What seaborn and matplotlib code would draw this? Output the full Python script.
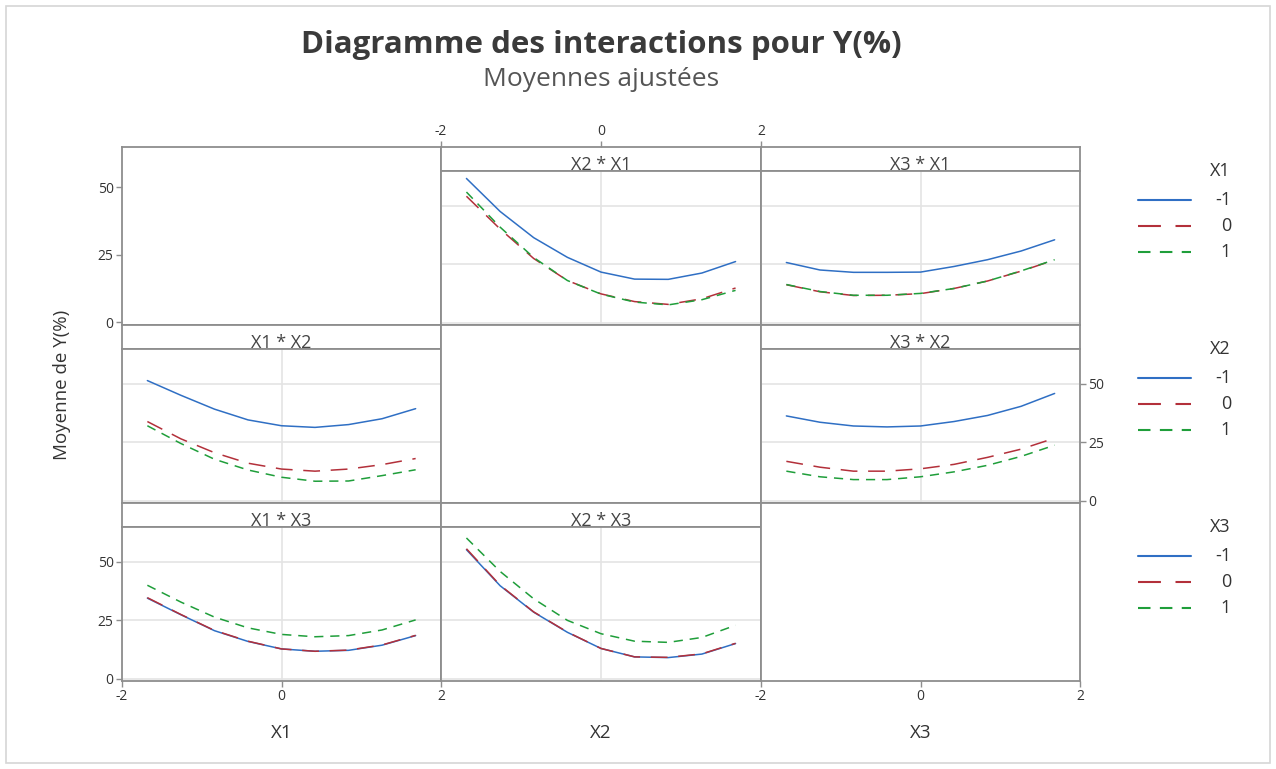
import matplotlib
matplotlib.use("Agg")
import matplotlib.pyplot as plt
import numpy as np
import pandas as pd
import seaborn as sns
from matplotlib.patches import Rectangle
from matplotlib.lines import Line2D

# ---------------------------------------------------------------------------
# Fitted means (coded units, axial points at +/-1.682)
# ---------------------------------------------------------------------------
coded_x = [-1.682, -1.261, -0.841, -0.420, 0.0, 0.420, 0.841, 1.261, 1.682]
levels = ["-1", "0", "1"]

# X2 on the axis, one curve per level of X1
x2_x1_m1 = [61.6, 47.5, 36.3, 27.9, 21.6, 18.6, 18.5, 21.2, 26.1]
x2_x1_0 = [54.0, 40.0, 27.4, 18.0, 12.3, 9.0, 7.8, 10.2, 14.8]
x2_x1_p1 = [55.8, 40.8, 27.8, 18.0, 12.2, 8.8, 7.6, 9.8, 13.8]

# X3 on the axis, one curve per level of X1
x3_x1_m1 = [25.7, 22.5, 21.5, 21.5, 21.6, 24.0, 26.9, 30.6, 35.4]
x3_x1_0 = [16.2, 13.2, 11.6, 11.7, 12.4, 14.6, 17.8, 22.0, 26.8]
x3_x1_p1 = [16.3, 13.3, 11.7, 11.7, 12.5, 14.6, 17.8, 22.1, 26.9]

# X1 on the axis, one curve per level of X2
x1_x2_m1 = [51.3, 45.0, 39.1, 34.5, 32.0, 31.3, 32.5, 35.0, 39.3]
x1_x2_0 = [33.8, 26.4, 20.5, 16.0, 13.5, 12.6, 13.5, 15.4, 18.0]
x1_x2_p1 = [32.0, 24.4, 17.7, 13.1, 10.0, 8.3, 8.4, 10.7, 13.2]

# X3 on the axis, one curve per level of X2
x3_x2_m1 = [36.2, 33.5, 31.9, 31.5, 31.9, 33.8, 36.4, 40.3, 45.8]
x3_x2_0 = [16.8, 14.3, 12.6, 12.6, 13.6, 15.5, 18.5, 22.0, 26.7]
x3_x2_p1 = [12.6, 10.2, 9.0, 9.0, 10.2, 12.3, 15.1, 18.9, 23.7]

# X1 on the axis, one curve per level of X3
x1_x3_m1 = [34.4, 27.3, 20.5, 15.9, 12.7, 11.7, 12.1, 14.3, 18.4]
x1_x3_0 = [34.6, 27.4, 20.6, 16.0, 12.7, 11.7, 12.2, 14.4, 18.5]
x1_x3_p1 = [39.9, 32.7, 26.3, 21.7, 18.9, 17.9, 18.4, 20.8, 25.1]

# X2 on the axis, one curve per level of X3
x2_x3_m1 = [55.1, 39.7, 28.4, 19.8, 12.9, 9.3, 9.0, 10.5, 15.0]
x2_x3_0 = [55.5, 39.9, 28.5, 19.9, 12.9, 9.3, 9.1, 10.6, 15.1]
x2_x3_p1 = [60.1, 45.8, 34.1, 24.9, 19.2, 16.0, 15.5, 17.6, 22.8]

factors = ["X1", "X2", "X3"]
x_ticks = [-2, 0, 2]
y_ticks = [0, 25, 50]

# (row, col) -> (strip title, curves by level); row = held factor, col = axis factor
panels = {
    (0, 1): ("X2 * X1", [x2_x1_m1, x2_x1_0, x2_x1_p1]),
    (0, 2): ("X3 * X1", [x3_x1_m1, x3_x1_0, x3_x1_p1]),
    (1, 0): ("X1 * X2", [x1_x2_m1, x1_x2_0, x1_x2_p1]),
    (1, 2): ("X3 * X2", [x3_x2_m1, x3_x2_0, x3_x2_p1]),
    (2, 0): ("X1 * X3", [x1_x3_m1, x1_x3_0, x1_x3_p1]),
    (2, 1): ("X2 * X3", [x2_x3_m1, x2_x3_0, x2_x3_p1]),
}

# ---------------------------------------------------------------------------
# Styling
# ---------------------------------------------------------------------------
sns.set_theme(style="white")
plt.rcParams["font.family"] = ["Open Sans", "DejaVu Sans"]
plt.rcParams["axes.unicode_minus"] = False

palette = {"-1": "#2f6fc4", "0": "#b3303a", "1": "#1f9e3a"}
dash_map = {"-1": "", "0": (11, 7), "1": (6, 4.5)}
frame_col = "#8e8e8e"
grid_col = "#e4e4e4"
text_col = "#333333"
line_w = 1.1
tick_size = 10

W, H = 1276, 769
fig = plt.figure(figsize=(W / 100, H / 100), dpi=100)
fig.patch.set_facecolor("white")


def rect(x0, y0, x1, y1):
    """Pixel box (top-left origin) -> figure fraction rectangle."""
    return [x0 / W, 1 - y1 / H, (x1 - x0) / W, (y1 - y0) / H]


col_edges = [122, 441, 761, 1080]
row_edges = [147, 325, 503, 681]
strip_h = 23.5
ylims = (-1.0, 65.0)
xlims = (-2.0, 2.0)


def style_frame(ax):
    for s in ax.spines.values():
        s.set_visible(True)
        s.set_color(frame_col)
        s.set_linewidth(1.3)
    ax.set_facecolor("white")


def tick_setup(ax, left=False, right=False, top=False, bottom=False):
    ax.set_xticks(x_ticks)
    ax.set_yticks(y_ticks)
    ax.tick_params(axis="both", which="both", direction="out", length=4,
                   width=1, color=frame_col, labelcolor=text_col,
                   labelsize=tick_size, pad=2,
                   left=left, labelleft=left, right=right, labelright=right,
                   top=top, labeltop=top, bottom=bottom, labelbottom=bottom)


for r in range(3):
    for c in range(3):
        x0, x1 = col_edges[c], col_edges[c + 1]
        y0, y1 = row_edges[r], row_edges[r + 1]
        left = (c == 0 and r in (0, 2))
        right = (c == 2 and r == 1)
        top = (r == 0 and c == 1)
        bottom = (r == 2 and c in (0, 2))
        if (r, c) in panels:
            title, curves = panels[(r, c)]
            # strip header; carries the top axis ticks when needed
            sax = fig.add_axes(rect(x0, y0, x1, y0 + strip_h))
            style_frame(sax)
            sax.set_xlim(*xlims)
            sax.set_yticks([])
            if top:
                sax.set_xticks(x_ticks)
                sax.tick_params(axis="x", direction="out", length=4, width=1,
                                color=frame_col, labelcolor=text_col,
                                labelsize=tick_size, pad=2, top=True,
                                labeltop=True, bottom=False,
                                labelbottom=False)
            else:
                sax.set_xticks([])
            sax.text(0.5, 0.0, title, ha="center", va="baseline",
                     fontsize=13, color="#444444", transform=sax.transAxes)

            ax = fig.add_axes(rect(x0, y0 + strip_h, x1, y1))
            style_frame(ax)
            df = pd.DataFrame({
                "x": np.tile(coded_x, 3),
                "y": np.concatenate(curves),
                "level": np.repeat(levels, len(coded_x)),
            })
            sns.lineplot(data=df, x="x", y="y", hue="level", style="level",
                         hue_order=levels, style_order=levels,
                         palette=palette, dashes=dash_map, linewidth=line_w,
                         sort=False, legend=False, ax=ax, zorder=3)
            ax.set_xlim(*xlims)
            ax.set_ylim(*ylims)
            tick_setup(ax, left, right, False, bottom)
            ax.grid(True, color=grid_col, linewidth=1.2, zorder=0)
            ax.set_xlabel("")
            ax.set_ylabel("")
        else:
            ax = fig.add_axes(rect(x0, y0, x1, y1))
            style_frame(ax)
            ax.set_xlim(*xlims)
            ax.set_ylim(*ylims)
            tick_setup(ax, left, right, top, bottom)
            ax.grid(False)

# Overlay for titles, axis names, legends and outer border
ov = fig.add_axes([0, 0, 1, 1], zorder=10)
ov.set_xlim(0, W)
ov.set_ylim(H, 0)
ov.axis("off")
ov.patch.set_alpha(0)

ov.add_patch(Rectangle((6, 6), W - 12, H - 12, fill=False,
                       edgecolor="#d6d6d6", linewidth=1.2))

ov.text(601, 45, "Diagramme des interactions pour Y(%)", ha="center",
        va="center", fontsize=22.5, fontweight="bold", color="#3a3a3a")
ov.text(601, 79, "Moyennes ajustées", ha="center", va="center",
        fontsize=19, color="#555555")

for c, name in enumerate(factors):
    ov.text((col_edges[c] + col_edges[c + 1]) / 2, 733, name, ha="center",
            va="center", fontsize=13.5, color=text_col)

ov.text(62, 385, "Moyenne de Y(%)", ha="center", va="center", rotation=90,
        fontsize=13.5, color=text_col)

# Legends, one block per held factor
legend_tops = [171, 349, 527]
for name, ytop in zip(factors, legend_tops):
    ov.text(1231, ytop, name, ha="right", va="center", fontsize=13,
            color=text_col)
    for i, lev in enumerate(levels):
        yy = ytop + 29 + i * 26
        ls = "-" if dash_map[lev] == "" else (0, dash_map[lev])
        ov.add_line(Line2D([1138, 1191], [yy, yy], color=palette[lev],
                           linestyle=ls, linewidth=1.5))
        ov.text(1231, yy, lev, ha="right", va="center", fontsize=13,
                color=text_col)

fig.savefig("out.png", dpi=100, facecolor="white")
